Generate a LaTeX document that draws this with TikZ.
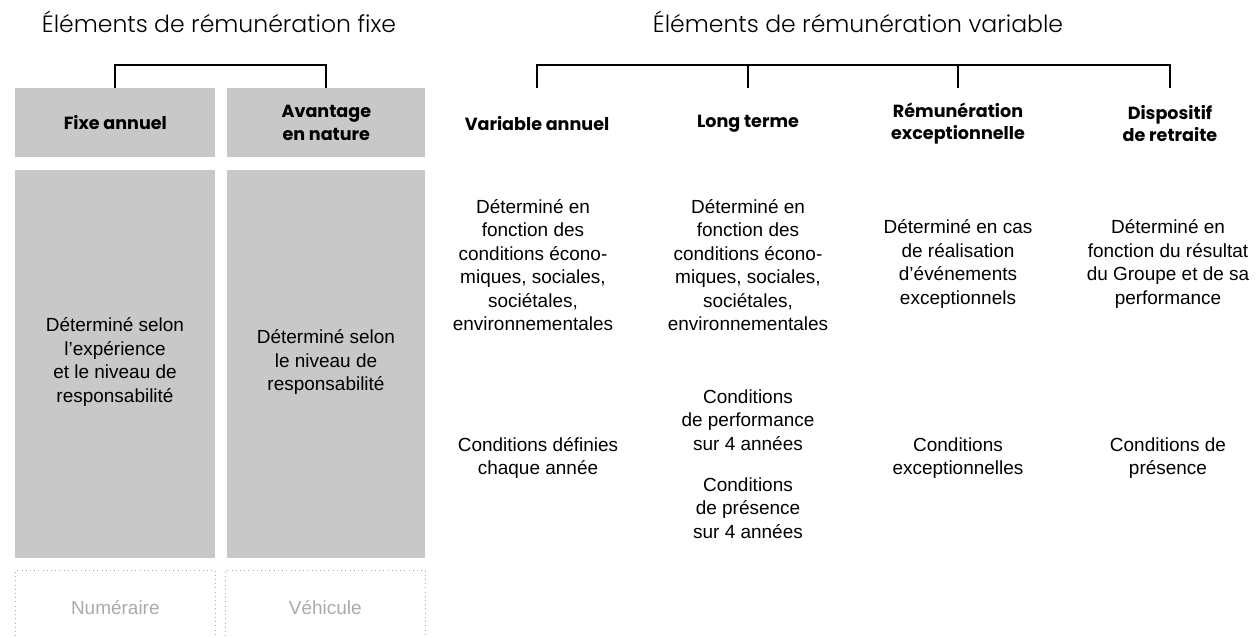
\documentclass[tikz,border=0pt]{standalone}
\usepackage{fontspec}
\setmainfont{Liberation Sans}
\newfontfamily\titlefont{Poppins Light}
\newfontfamily\headfont{Poppins}
\usetikzlibrary{positioning}
\definecolor{boxgray}{RGB}{200,200,200}
\definecolor{ghostgray}{RGB}{170,170,170}

\begin{document}
\begin{tikzpicture}[x=0.02cm,y=-0.02cm,
    title/.style={font=\titlefont\fontsize{13.4}{16}\selectfont},
    head/.style={font=\headfont\bfseries\fontsize{10}{12.8}\selectfont,align=center,inner sep=0pt},
    body/.style={font=\fontsize{10.8}{13.4}\selectfont,align=center,inner sep=0pt},
    grayhead/.style={fill=boxgray,minimum height=1.38cm,inner sep=0pt,anchor=north west},
    ghostbox/.style={draw=ghostgray,dotted,minimum height=1.5cm,anchor=north west,
      font=\fontsize{10.8}{13}\selectfont,text=ghostgray},
    bracket/.style={line width=1.1pt}]
  \useasboundingbox (0,0) rectangle (1257,638);
  % titles
  \node[title] (tfix) at (219,22) {Éléments de rémunération fixe};
  \node[title] (tvar) at (858,22) {Éléments de rémunération variable};
  % fixed part
  \node[grayhead,minimum width=4cm] (fa) at (15,88) {};
  \node[grayhead,minimum width=3.96cm] (an) at (227,88) {};
  \node[head] at (fa.center) {Fixe annuel};
  \node[head] at (an.center) {Avantage\\en nature};
  \fill[boxgray] (15,170) rectangle (215,558);
  \fill[boxgray] (227,170) rectangle (425,558);
  \node[body] (fatxt) at (115,362) {Déterminé selon\\l'expérience\\et le niveau de\\responsabilité};
  \node[body] (antxt) at (326,362) {Déterminé selon\\le niveau de\\responsabilité};
  \node[ghostbox,minimum width=4cm] (num) at (15,570) {Numéraire};
  \node[ghostbox,minimum width=4cm] (veh) at (225,570) {Véhicule};
  \draw[bracket] (fa.north) -- ++(0,-23) -| (an.north);
  % variable part
  \foreach \nm/\cx/\txt in {va/537/Variable annuel,lt/748/Long terme,
      re/958/Rémunération\\exceptionnelle,dr/1170/Dispositif\\de retraite}{
    \node[head,minimum height=1.4cm,anchor=north] (\nm) at (\cx,88) {\txt};
  }
  \draw[bracket] (va.north) -- ++(0,-23) -| (dr.north);
  \draw[bracket] (lt.north) -- ++(0,-23);
  \draw[bracket] (re.north) -- ++(0,-23);
  \node[body] (vatxt) at (533,265) {Déterminé en\\fonction des\\conditions écono-\\miques, sociales,\\sociétales,\\environnementales};
  \node[body] (lttxt) at (748,265) {Déterminé en\\fonction des\\conditions écono-\\miques, sociales,\\sociétales,\\environnementales};
  \node[body] (retxt) at (958,264) {Déterminé en cas\\de réalisation\\d'événements\\exceptionnels};
  \node[body] (drtxt) at (1168,264) {Déterminé en\\fonction du résultat\\du Groupe et de sa\\performance};
  \node[body] (vacond) at (538,458) {Conditions définies\\chaque année};
  \node[body] (ltperf) at (748,420) {Conditions\\de performance\\sur 4 années};
  \node[body] (ltpres) at (748,508) {Conditions\\de présence\\sur 4 années};
  \node[body] (recond) at (958,458) {Conditions\\exceptionnelles};
  \node[body] (drcond) at (1168,458) {Conditions de\\présence};
\end{tikzpicture}
\end{document}
